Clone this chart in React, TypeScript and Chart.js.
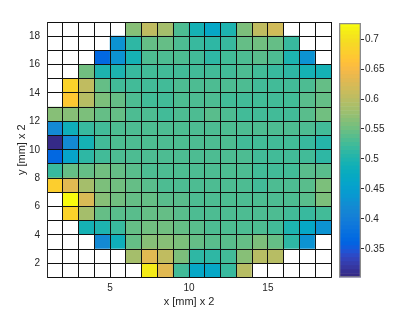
import React, { useEffect, useRef } from 'react';
import { Chart, registerables } from 'chart.js';

Chart.register(...registerables);

// ---- data (rows from y=1 (bottom) to y=18 (top), columns x=1..18) ----
const N = null;
const xCells = [1, 2, 3, 4, 5, 6, 7, 8, 9, 10, 11, 12, 13, 14, 15, 16, 17, 18];
const yCells = [1, 2, 3, 4, 5, 6, 7, 8, 9, 10, 11, 12, 13, 14, 15, 16, 17, 18];
const xTickLabels = [5, 10, 15];
const yTickLabels = [2, 4, 6, 8, 10, 12, 14, 16, 18];
const cbTickLabels = [0.35, 0.4, 0.45, 0.5, 0.55, 0.6, 0.65, 0.7];
const cMin = 0.302;
const cMax = 0.727;

const row01 = [N, N, N, N, N, N, 0.712, 0.630, 0.527, 0.468, 0.462, 0.515, 0.600, N, N, N, N, N];
const row02 = [N, N, N, N, N, 0.585, 0.633, 0.604, 0.560, 0.510, 0.508, 0.527, 0.565, 0.600, 0.595, N, N, N];
const row03 = [N, N, N, 0.420, 0.485, 0.543, 0.565, 0.565, 0.556, 0.543, 0.538, 0.538, 0.547, 0.556, 0.543, 0.508, 0.430, N];
const row04 = [N, N, 0.490, 0.501, 0.518, 0.547, 0.552, 0.552, 0.547, 0.538, 0.532, 0.532, 0.532, 0.532, 0.527, 0.501, 0.468, 0.430];
const row05 = [N, 0.683, 0.585, 0.543, 0.538, 0.538, 0.543, 0.543, 0.538, 0.532, 0.532, 0.532, 0.532, 0.532, 0.532, 0.523, 0.518, 0.527];
const row06 = [N, 0.727, 0.625, 0.565, 0.550, 0.543, 0.543, 0.538, 0.538, 0.532, 0.532, 0.532, 0.532, 0.532, 0.532, 0.532, 0.540, 0.560];
const row07 = [0.675, 0.633, 0.585, 0.560, 0.552, 0.543, 0.538, 0.532, 0.532, 0.532, 0.532, 0.532, 0.532, 0.527, 0.530, 0.530, 0.538, 0.560];
const row08 = [0.518, 0.543, 0.547, 0.552, 0.543, 0.538, 0.532, 0.532, 0.532, 0.532, 0.532, 0.532, 0.532, 0.527, 0.527, 0.527, 0.538, 0.538];
const row09 = [0.366, 0.460, 0.508, 0.527, 0.532, 0.532, 0.532, 0.532, 0.532, 0.532, 0.532, 0.532, 0.532, 0.523, 0.527, 0.527, 0.523, 0.510];
const row10 = [0.302, 0.420, 0.488, 0.523, 0.530, 0.532, 0.532, 0.532, 0.532, 0.532, 0.532, 0.532, 0.527, 0.523, 0.527, 0.527, 0.518, 0.505];
const row11 = [0.420, 0.485, 0.515, 0.525, 0.532, 0.532, 0.532, 0.532, 0.532, 0.532, 0.532, 0.532, 0.532, 0.532, 0.532, 0.532, 0.532, 0.527];
const row12 = [0.565, 0.565, 0.560, 0.543, 0.543, 0.532, 0.532, 0.527, 0.532, 0.532, 0.538, 0.532, 0.527, 0.527, 0.527, 0.527, 0.538, 0.552];
const row13 = [N, 0.670, 0.600, 0.560, 0.543, 0.532, 0.527, 0.527, 0.532, 0.532, 0.532, 0.527, 0.527, 0.523, 0.523, 0.527, 0.538, 0.547];
const row14 = [N, 0.683, 0.604, 0.543, 0.525, 0.523, 0.527, 0.527, 0.530, 0.532, 0.532, 0.532, 0.532, 0.527, 0.523, 0.523, 0.532, 0.547];
const row15 = [N, N, 0.552, 0.498, 0.501, 0.518, 0.523, 0.527, 0.527, 0.527, 0.527, 0.527, 0.530, 0.527, 0.518, 0.510, 0.492, 0.492];
const row16 = [N, N, N, 0.366, 0.432, 0.488, 0.532, 0.532, 0.532, 0.523, 0.510, 0.523, 0.532, 0.538, 0.532, 0.501, 0.430, N];
const row17 = [N, N, N, N, 0.430, 0.512, 0.547, 0.547, 0.532, 0.520, 0.508, 0.518, 0.543, 0.552, 0.547, 0.518, N, N];
const row18 = [N, N, N, N, N, 0.567, 0.604, 0.585, 0.532, 0.488, 0.468, 0.501, 0.556, 0.607, 0.620, N, N, N];

const heatRows = [row01, row02, row03, row04, row05, row06, row07, row08, row09, row10, row11, row12, row13, row14, row15, row16, row17, row18];

// MATLAB parula (64 entries)
const parula = [
  [0.2081, 0.1663, 0.5292], [0.2116, 0.1898, 0.5777], [0.2123, 0.2138, 0.6270], [0.2081, 0.2386, 0.6771],
  [0.1959, 0.2645, 0.7279], [0.1707, 0.2919, 0.7792], [0.1253, 0.3242, 0.8303], [0.0591, 0.3598, 0.8683],
  [0.0117, 0.3875, 0.8820], [0.0060, 0.4086, 0.8828], [0.0165, 0.4266, 0.8786], [0.0329, 0.4430, 0.8720],
  [0.0498, 0.4586, 0.8641], [0.0629, 0.4737, 0.8554], [0.0723, 0.4887, 0.8467], [0.0779, 0.5040, 0.8384],
  [0.0793, 0.5200, 0.8312], [0.0749, 0.5375, 0.8263], [0.0641, 0.5570, 0.8240], [0.0488, 0.5772, 0.8228],
  [0.0343, 0.5966, 0.8199], [0.0265, 0.6137, 0.8135], [0.0239, 0.6287, 0.8038], [0.0231, 0.6418, 0.7913],
  [0.0228, 0.6535, 0.7768], [0.0267, 0.6642, 0.7607], [0.0384, 0.6743, 0.7436], [0.0590, 0.6838, 0.7254],
  [0.0843, 0.6928, 0.7062], [0.1133, 0.7015, 0.6859], [0.1453, 0.7098, 0.6646], [0.1801, 0.7177, 0.6424],
  [0.2178, 0.7250, 0.6193], [0.2586, 0.7317, 0.5954], [0.3022, 0.7376, 0.5712], [0.3482, 0.7424, 0.5473],
  [0.3953, 0.7459, 0.5244], [0.4420, 0.7481, 0.5033], [0.4871, 0.7491, 0.4840], [0.5300, 0.7491, 0.4661],
  [0.5709, 0.7485, 0.4494], [0.6099, 0.7473, 0.4337], [0.6473, 0.7456, 0.4188], [0.6834, 0.7435, 0.4044],
  [0.7184, 0.7411, 0.3905], [0.7525, 0.7384, 0.3768], [0.7858, 0.7356, 0.3633], [0.8185, 0.7327, 0.3498],
  [0.8507, 0.7299, 0.3360], [0.8824, 0.7274, 0.3217], [0.9139, 0.7258, 0.3063], [0.9450, 0.7261, 0.2886],
  [0.9739, 0.7314, 0.2666], [0.9938, 0.7455, 0.2403], [0.9990, 0.7653, 0.2164], [0.9955, 0.7861, 0.1967],
  [0.9880, 0.8066, 0.1794], [0.9789, 0.8271, 0.1633], [0.9697, 0.8481, 0.1475], [0.9626, 0.8705, 0.1309],
  [0.9589, 0.8949, 0.1132], [0.9598, 0.9218, 0.0948], [0.9661, 0.9514, 0.0755], [0.9763, 0.9831, 0.0538],
];

function rgbOf(i: number) {
  const [r, g, b] = parula[Math.max(0, Math.min(parula.length - 1, i))];
  return `rgb(${Math.round(r * 255)},${Math.round(g * 255)},${Math.round(b * 255)})`;
}
function colorFor(v: number | null) {
  if (v === null) return '#ffffff';
  const t = (v - cMin) / (cMax - cMin);
  return rgbOf(Math.floor(t * parula.length));
}

const TEXT = '#262626';
const FONT = '"Liberation Sans", Arial, Helvetica, sans-serif';
const fmt = (v: number) => String(Number(v.toFixed(2)));

export default function App() {
  const mainRef = useRef<HTMLCanvasElement>(null);
  const cbRef = useRef<HTMLCanvasElement>(null);

  useEffect(() => {
    Chart.defaults.font.family = FONT;
    Chart.defaults.color = TEXT;

    const edgesX = [...xCells, xCells[xCells.length - 1] + 1];
    const edgesY = [...yCells, yCells[yCells.length - 1] + 1];

    const datasets = heatRows.map((row, ri) => ({
      type: 'bar' as const,
      data: row.map((_v, ci) => ({ x: xCells[ci] + 0.5, y: [yCells[ri], yCells[ri] + 1] })),
      backgroundColor: row.map(colorFor),
      borderWidth: 0,
      barPercentage: 1,
      categoryPercentage: 1,
      grouped: false,
    }));

    const main = new Chart(mainRef.current!, {
      type: 'bar',
      data: { datasets: datasets as any },
      options: {
        animation: false,
        responsive: false,
        maintainAspectRatio: false,
        events: [],
        layout: { padding: { top: 22, right: 84, left: 0, bottom: 0 } },
        plugins: { legend: { display: false }, tooltip: { enabled: false } },
        scales: {
          x: {
            type: 'linear',
            min: edgesX[0],
            max: edgesX[edgesX.length - 1],
            offset: false,
            afterBuildTicks: (s: any) => { s.ticks = edgesX.map((v) => ({ value: v })); },
            afterFit: (s: any) => { s.height = 34.5; },
            grid: { color: '#111111', lineWidth: 1, drawTicks: false, offset: false, z: 1 },
            border: { color: TEXT, z: 1 },
            ticks: {
              autoSkip: false, maxRotation: 0, padding: 5, color: TEXT,
              font: { size: 10 },
              callback: (v: any) => (xTickLabels.includes(Number(v)) ? String(v) : ''),
            },
            title: { display: true, text: 'x [mm] x 2', color: TEXT, font: { size: 11 }, padding: { top: 0, bottom: 3 } },
          },
          y: {
            type: 'linear',
            min: edgesY[0],
            max: edgesY[edgesY.length - 1],
            afterBuildTicks: (s: any) => { s.ticks = edgesY.map((v) => ({ value: v })); },
            afterFit: (s: any) => { s.width = 47; },
            grid: { color: '#111111', lineWidth: 1, drawTicks: false, z: 1 },
            border: { color: TEXT, z: 1 },
            ticks: {
              autoSkip: false, padding: 7, color: TEXT,
              font: { size: 10 },
              callback: (v: any) => (yTickLabels.includes(Number(v)) ? String(v) : ''),
            },
            title: { display: true, text: 'y [mm] x 2', color: TEXT, font: { size: 11 }, padding: { top: 15, bottom: 0 } },
          },
        },
      } as any,
    });

    // colorbar
    const nSteps = parula.length;
    const step = (cMax - cMin) / nSteps;
    const cbSets: any[] = [
      {
        data: [[cMin, cMax]],
        backgroundColor: 'rgba(0,0,0,0)',
        borderColor: '#8c8c8c',
        borderWidth: 1,
        borderSkipped: false,
        barPercentage: 1,
        categoryPercentage: 1,
        grouped: false,
      },
    ];
    for (let i = 0; i < nSteps; i++) {
      cbSets.push({
        data: [[cMin + i * step, cMin + (i + 1) * step]],
        backgroundColor: rgbOf(i),
        borderWidth: 0,
        barPercentage: 1,
        categoryPercentage: 1,
        grouped: false,
      });
    }
    const cb = new Chart(cbRef.current!, {
      type: 'bar',
      data: { labels: [''], datasets: cbSets },
      options: {
        animation: false,
        responsive: false,
        maintainAspectRatio: false,
        events: [],
        layout: { padding: { top: 23, right: 0, left: 9, bottom: 34.5 } },
        plugins: { legend: { display: false }, tooltip: { enabled: false } },
        scales: {
          x: { display: false },
          y: {
            position: 'right',
            min: cMin,
            max: cMax,
            afterBuildTicks: (s: any) => { s.ticks = cbTickLabels.map((v) => ({ value: v })); },
            afterFit: (s: any) => { s.width = 54; },
            grid: { drawOnChartArea: false, drawTicks: true, tickLength: 3, color: TEXT },
            border: { display: false },
            ticks: { padding: 1, color: TEXT, font: { size: 10 }, callback: (v: any) => fmt(Number(v)) },
          },
        },
      } as any,
    });

    return () => {
      main.destroy();
      cb.destroy();
    };
  }, []);

  return (
    <div style={{ position: 'absolute', left: 0, top: 0, width: 415, height: 312, background: '#ffffff' }}>
      <canvas ref={mainRef} width={415} height={312} style={{ position: 'absolute', left: 0, top: 0, width: 415, height: 312 }} />
      <canvas ref={cbRef} width={85} height={312} style={{ position: 'absolute', left: 330, top: 0, width: 85, height: 312 }} />
    </div>
  );
}
